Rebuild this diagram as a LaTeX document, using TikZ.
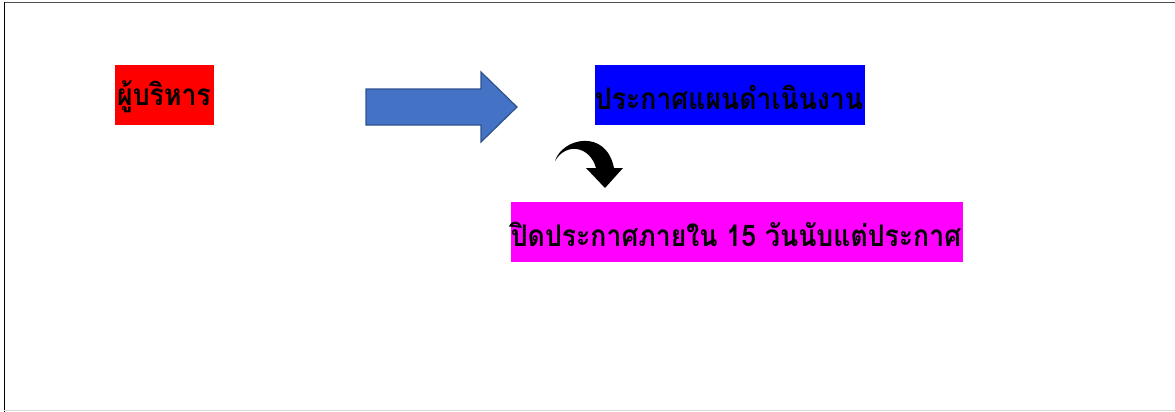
\documentclass[tikz,border=0pt]{standalone}
\usepackage{fontspec}
\newfontfamily\thaifont[Script=Thai]{Loma}
\definecolor{arrowfill}{HTML}{4472C4}
\definecolor{arrowline}{HTML}{2F528F}
\definecolor{magentabox}{HTML}{FF00FF}
\begin{document}
\begin{tikzpicture}[x=1pt,y=-1pt,
  lbl/.style={inner sep=0pt, outer sep=0pt, font=\thaifont\bfseries\fontsize{26.6}{32}\selectfont, text=black, anchor=center, yscale=1.12},
]
\useasboundingbox (0,0) rectangle (1175,412);
\fill[white] (0,0) rectangle (1175,412);
% frame
\draw[line width=1.2pt, black!70] (4,2.5) -- (1175,2.5);
\draw[line width=1.4pt, black] (4.5,2) -- (4.5,412);
\draw[line width=0.8pt, black!15] (4,410.5) -- (1175,410.5);
% boxes
\fill[red] (115,65) rectangle (214,125);
\node[lbl] (boss) at (164,97) {ผู้บริหาร};
\fill[blue] (595,65) rectangle (865,125);
\node[lbl] (plan) at (729,97) {ประกาศแผนดำเนินงาน};
\fill[magentabox] (511,202) rectangle (963,262);
\node[lbl] (post) at (736,234) {ปิดประกาศภายใน 15 วันนับแต่ประกาศ};
% block arrow
\draw[fill=arrowfill, draw=arrowline, line width=1.2pt, line join=miter]
  (366,89) -- (481,89) -- (481,72) -- (517,107) -- (481,142) -- (481,125) -- (366,125) -- cycle;
% curved arrow
\fill[black] (555,161) .. controls (562,138) and (606,128) .. (614,168)
  -- (623,168) -- (605,188) -- (586,168) -- (596,168)
  .. controls (590,146) and (566,142) .. (555,161) -- cycle;
\end{tikzpicture}
\end{document}
